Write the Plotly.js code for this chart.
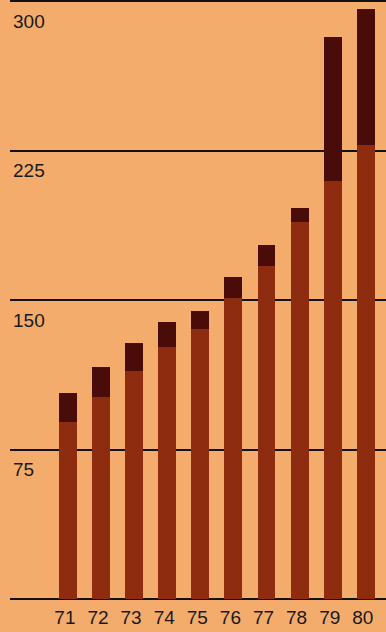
<!DOCTYPE html>
<html>
<head>
<meta charset="utf-8">
<script src="https://cdn.plot.ly/plotly-3.0.1.min.js"></script>
<style>
html,body{margin:0;padding:0;background:#F3AC6C;}
#chart{width:386px;height:632px;}
</style>
</head>
<body>
<div id="chart"></div>
<script>
const years = ["71","72","73","74","75","76","77","78","79","80"];
const lowerValues = [88.7, 101.2, 114.2, 126.5, 135.3, 151.2, 167.0, 189.2, 210.0, 228.0];
const totalValues = [103.2, 116.2, 128.3, 139.2, 144.5, 161.7, 177.8, 196.2, 282.0, 296.2];
const upperValues = totalValues.map((t, i) => +(t - lowerValues[i]).toFixed(1));
const yTicks = [75, 150, 225, 300];
const yTickLabels = ["75", "150", "225", "300"];

const data = [
  {type: "bar", x: years, y: lowerValues, marker: {color: "#8E2C10", line: {width: 0}}, hoverinfo: "skip"},
  {type: "bar", x: years, y: upperValues, marker: {color: "#4A0C08", line: {width: 0}}, hoverinfo: "skip"}
];

const layout = {
  width: 386, height: 632,
  margin: {l: 10, r: 0, t: 0, b: 33},
  paper_bgcolor: "#F3AC6C",
  plot_bgcolor: "#F3AC6C",
  barmode: "stack",
  bargap: 0.46,
  showlegend: false,
  font: {family: "Liberation Sans, Arial, sans-serif", size: 19, color: "#1a1a1a"},
  xaxis: {
    type: "category",
    range: [-1.75, 9.61],
    showgrid: false, zeroline: false, showline: false,
    ticks: "", ticklabelshift: -3, ticklabelstandoff: 5,
    tickfont: {size: 19, color: "#1a1a1a"},
    fixedrange: true
  },
  yaxis: {
    range: [0, 300.6],
    tickvals: yTicks, ticktext: yTickLabels,
    showgrid: true, gridcolor: "#111111", gridwidth: 2,
    zeroline: true, zerolinecolor: "#111111", zerolinewidth: 2,
    showline: false, ticks: "",
    ticklabelposition: "inside",
    ticklabelshift: 20,
    ticklabelstandoff: 0,
    tickfont: {size: 19, color: "#1a1a1a"},
    fixedrange: true
  }
};

Plotly.newPlot("chart", data, layout, {staticPlot: true, displayModeBar: false});
</script>
</body>
</html>
